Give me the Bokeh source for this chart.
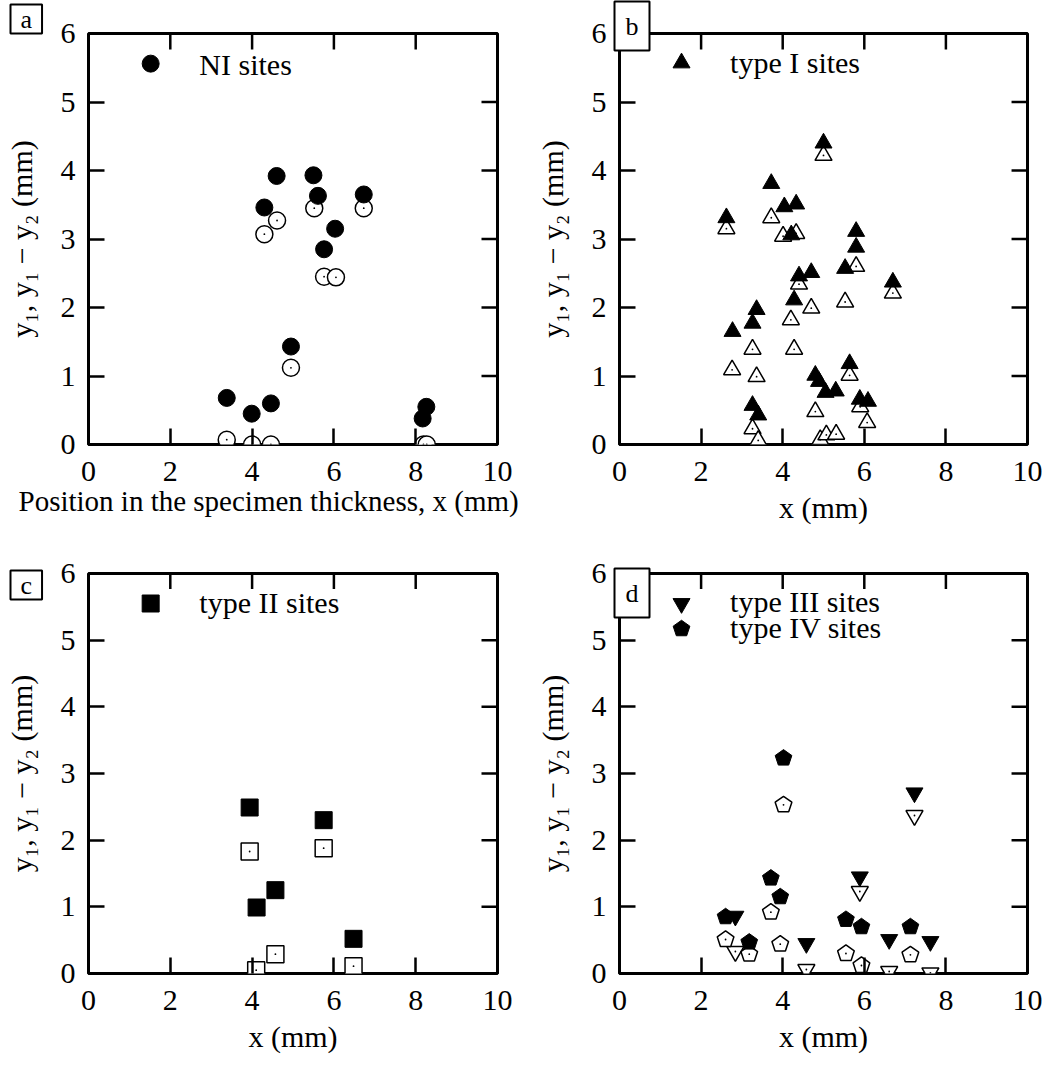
import numpy as np
from bokeh.plotting import figure
from bokeh.models import Range1d, FixedTicker, Title
from bokeh.layouts import column, row
from bokeh.embed import file_html
from bokeh.resources import INLINE
from bokeh.core.properties import value

# ---------------- data ----------------
x_ticks = [0, 2, 4, 6, 8, 10]
y_ticks = [0, 1, 2, 3, 4, 5, 6]

# (a) NI sites
ni_fill_x = [4.60, 5.50, 5.61, 6.73, 4.30, 6.03, 5.76, 4.95, 3.38, 3.99, 4.46, 8.26, 8.17]
ni_fill_y = [3.92, 3.93, 3.63, 3.65, 3.46, 3.15, 2.85, 1.43, 0.68, 0.45, 0.60, 0.55, 0.38]
ni_open_x = [5.52, 6.73, 4.61, 4.30, 5.76, 6.05, 4.95, 3.38, 4.00, 4.46, 8.19, 8.27]
ni_open_y = [3.45, 3.45, 3.27, 3.07, 2.45, 2.44, 1.12, 0.07, 0.00, 0.00, 0.00, 0.00]

# (b) type I sites
t1_fill_x = [5.00, 3.72, 4.04, 4.33, 2.62, 4.21, 5.80, 5.80, 5.53, 4.40, 4.70, 6.70, 4.28,
             3.36, 3.26, 2.77, 5.64, 4.80, 4.89, 5.05, 5.30, 5.89, 6.09, 3.26, 3.40]
t1_fill_y = [4.40, 3.81, 3.47, 3.51, 3.31, 3.06, 3.11, 2.88, 2.57, 2.46, 2.51, 2.37, 2.11,
             1.97, 1.77, 1.65, 1.18, 1.01, 0.92, 0.76, 0.78, 0.66, 0.63, 0.57, 0.43]
t1_open_x = [5.00, 3.72, 2.62, 4.01, 4.33, 5.80, 4.40, 6.70, 5.53, 4.70, 4.20, 3.26, 4.28,
             2.76, 3.36, 5.64, 5.90, 4.80, 6.07, 3.26, 3.40, 4.92, 5.07, 5.31]
t1_open_y = [4.22, 3.31, 3.15, 3.04, 3.08, 2.60, 2.34, 2.21, 2.08, 1.99, 1.82, 1.39, 1.39,
             1.09, 0.99, 1.01, 0.55, 0.48, 0.32, 0.23, 0.06, 0.07, 0.14, 0.15]

# (c) type II sites
t2_fill_x = [3.94, 5.75, 4.57, 4.11, 6.48]
t2_fill_y = [2.49, 2.30, 1.25, 0.99, 0.52]
t2_open_x = [3.94, 5.75, 4.57, 4.10, 6.48]
t2_open_y = [1.83, 1.88, 0.29, 0.05, 0.11]

# (d) type III sites
t3_fill_x = [2.84, 7.23, 5.89, 4.58, 6.61, 7.62]
t3_fill_y = [0.86, 2.71, 1.45, 0.45, 0.51, 0.48]
t3_open_x = [2.84, 7.23, 5.89, 4.58, 6.61, 7.62]
t3_open_y = [0.33, 2.37, 1.23, 0.06, 0.03, 0.01]

# (d) type IV sites
t4_fill_x = [4.02, 3.71, 3.94, 2.60, 3.18, 5.55, 5.93, 7.13]
t4_fill_y = [3.23, 1.43, 1.15, 0.85, 0.47, 0.81, 0.70, 0.70]
t4_open_x = [4.02, 3.71, 2.60, 3.18, 3.94, 5.55, 5.93, 7.13]
t4_open_y = [2.53, 0.92, 0.51, 0.29, 0.44, 0.30, 0.12, 0.28]

# ---------------- style ----------------
FONT = "Liberation Serif"
FS = "30px"
MS = 17
LW = 1.5
FRAME_W = 409
FRAME_H = 411
PX_X = FRAME_W / 10.0
PX_Y = FRAME_H / 6.0
PENT_R = 8.8
TICK_LEN = 16
LEFT_B = 88
YLAB_STANDOFF = 20


def pentagons(xc, yc, r=PENT_R):
    ang = np.pi / 2 + np.arange(5) * 2 * np.pi / 5
    xs = [list(x + r * np.cos(ang) / PX_X) for x in xc]
    ys = [list(y + r * np.sin(ang) / PX_Y) for y in yc]
    return xs, ys


def make_fig(width, height, right, bottom, xlabel):
    p = figure(width=width, height=height, x_range=Range1d(0, 10), y_range=Range1d(0, 6),
               output_backend="svg", toolbar_location=None,
               min_border_left=LEFT_B, min_border_right=right,
               min_border_top=33, min_border_bottom=bottom)
    p.grid.visible = False
    p.background_fill_color = "white"
    p.border_fill_color = "white"
    p.outline_line_color = "black"
    p.outline_line_width = 3
    p.outline_line_alpha = 1.0
    for ax in (p.xaxis[0], p.yaxis[0]):
        ax.axis_line_color = None
        ax.major_tick_in = TICK_LEN
        ax.major_tick_out = 0
        ax.major_tick_line_width = 2.5
        ax.major_tick_line_color = "black"
        ax.minor_tick_line_color = None
        ax.major_label_text_font = FONT
        ax.major_label_text_font_size = FS
        ax.major_label_text_color = "black"
        ax.axis_label_text_font = FONT
        ax.axis_label_text_font_size = FS
        ax.axis_label_text_font_style = "normal"
        ax.axis_label_text_color = "black"
    p.xaxis[0].ticker = FixedTicker(ticks=x_ticks)
    p.yaxis[0].ticker = FixedTicker(ticks=y_ticks)
    if xlabel is not None:
        p.xaxis[0].axis_label = xlabel
    p.xaxis[0].major_label_standoff = 17
    p.xaxis[0].axis_label_standoff = 7
    p.yaxis[0].axis_label = "y\u2081, y\u2081 \u2212 y\u2082 (mm)"
    p.yaxis[0].major_label_standoff = 13
    p.yaxis[0].axis_label_standoff = YLAB_STANDOFF
    # inner ticks on the top and right frame edges
    tx = [t for t in x_ticks if 0 < t < 10]
    ty = [t for t in y_ticks if 0 < t < 6]
    p.segment(x0=tx, y0=[6] * len(tx), x1=tx, y1=[6 - TICK_LEN / PX_Y] * len(tx),
              line_color="black", line_width=2.5)
    p.segment(x0=[10] * len(ty), y0=ty, x1=[10 - TICK_LEN / PX_X] * len(ty), y1=ty,
              line_color="black", line_width=2.5)
    return p


def open_markers(p, xs, ys, marker):
    p.scatter(xs, ys, marker=marker, size=MS, fill_color="white", line_color="black", line_width=LW)
    p.scatter(xs, ys, marker="circle", size=1.8, fill_color="black", line_color=None)


def fill_markers(p, xs, ys, marker):
    p.scatter(xs, ys, marker=marker, size=MS, fill_color="black", line_color="black", line_width=1)


def legend_text(p, x, y, txt):
    p.text([x], [y], text=[txt], text_font=value(FONT), text_font_size=FS,
           text_baseline="middle", text_align="left", text_color="black")


def panel_label(p, txt, offset, standoff, pad):
    # pad = (horizontal, vertical)
    t = Title(text=txt, align="left", vertical_align="bottom", offset=offset, standoff=standoff,
              text_font=FONT, text_font_size="26px", text_font_style="normal", text_color="black",
              background_fill_color="white", background_fill_alpha=1.0,
              border_line_color="black", border_line_width=2, border_line_alpha=1.0,
              padding=pad)
    p.add_layout(t, "above")


# legend placement (style)
LEG_MX = 1.52
LEG_TX = 2.71

W_LEFT = 531   # left column figure width
W_RIGHT = 511  # right column figure width

# ---- (a)
pa = make_fig(W_LEFT, 540, W_LEFT - LEFT_B - FRAME_W, 96, None)
pa.add_layout(Title(text="Position in the specimen thickness, x (mm)", align="left",
                    vertical_align="top", offset=-70, standoff=2, text_font=FONT,
                    text_font_size="29px", text_font_style="normal", text_color="black"), "below")
open_markers(pa, ni_open_x, ni_open_y, "circle")
fill_markers(pa, ni_fill_x, ni_fill_y, "circle")
fill_markers(pa, [LEG_MX], [5.56], "circle")
legend_text(pa, LEG_TX, 5.55, "NI sites")
panel_label(pa, "a", -78, 0, (10, 0))

# ---- (b)
pb = make_fig(W_RIGHT, 540, 15, 96, "x (mm)")
open_markers(pb, t1_open_x, t1_open_y, "triangle")
fill_markers(pb, t1_fill_x, t1_fill_y, "triangle")
fill_markers(pb, [LEG_MX], [5.57], "triangle")
legend_text(pb, LEG_TX, 5.58, "type I sites")
panel_label(pb, "b", -5, -34, (11, 10))

# ---- (c)
pc = make_fig(W_LEFT, 515, W_LEFT - LEFT_B - FRAME_W, 70, "x (mm)")
open_markers(pc, t2_open_x, t2_open_y, "square")
fill_markers(pc, t2_fill_x, t2_fill_y, "square")
fill_markers(pc, [LEG_MX], [5.55], "square")
legend_text(pc, LEG_TX, 5.57, "type II sites")
panel_label(pc, "c", -78, -52, (10, 0))

# ---- (d)
pd_ = make_fig(W_RIGHT, 515, 15, 70, "x (mm)")
open_markers(pd_, t3_open_x, t3_open_y, "inverted_triangle")
oxs, oys = pentagons(t4_open_x, t4_open_y)
pd_.patches(oxs, oys, fill_color="white", line_color="black", line_width=LW)
pd_.scatter(t4_open_x, t4_open_y, marker="circle", size=1.8, fill_color="black", line_color=None)
fill_markers(pd_, t3_fill_x, t3_fill_y, "inverted_triangle")
fxs, fys = pentagons(t4_fill_x, t4_fill_y)
pd_.patches(fxs, fys, fill_color="black", line_color="black", line_width=1)
fill_markers(pd_, [LEG_MX], [5.55], "inverted_triangle")
lxs, lys = pentagons([LEG_MX], [5.17])
pd_.patches(lxs, lys, fill_color="black", line_color="black", line_width=1)
legend_text(pd_, LEG_TX, 5.58, "type III sites")
legend_text(pd_, LEG_TX, 5.19, "type IV sites")
panel_label(pd_, "d", -5, -88, (11, 10))

layout = column(row(pa, pb), row(pc, pd_))
open("out.html", "w").write(file_html(layout, INLINE))
